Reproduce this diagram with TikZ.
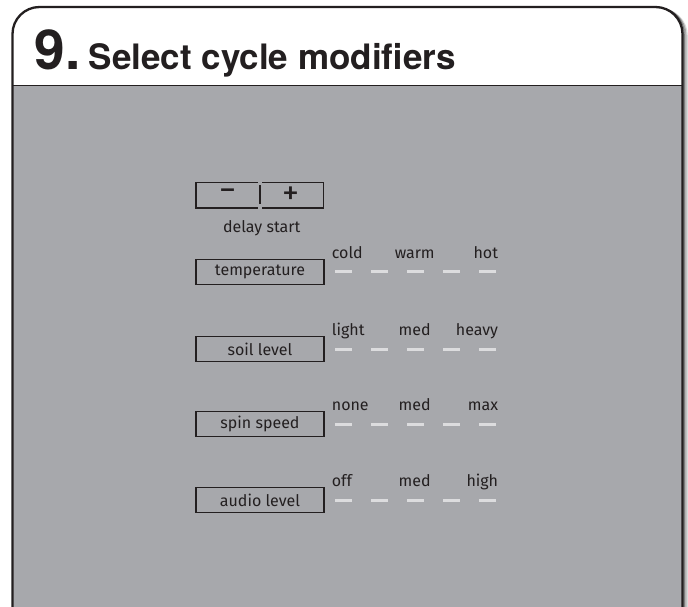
\documentclass[tikz,border=0pt]{standalone}
\usepackage{fontspec}
\setmainfont{Fira Sans}
\newfontfamily\titlefont{TeX Gyre Heros}
\definecolor{panelgray}{HTML}{A7A8AC}
\definecolor{ink}{HTML}{231F20}
\definecolor{ledgray}{HTML}{DCDCDE}
\begin{document}
\begin{tikzpicture}[x=1pt,y=-1pt,
  ctrl/.style={draw=ink,line width=1.3pt,minimum width=128pt,minimum height=25pt,inner sep=0pt,font=\fontsize{16}{18}\selectfont,text=ink},
  lbl/.style={inner sep=0pt,font=\fontsize{16}{18}\selectfont,text=ink},
  led/.style={draw=ledgray,line width=3pt},
  frameline/.style={draw=ink,line width=2.3pt,rounded corners=27pt}]
\useasboundingbox (0,0) rectangle (688,607);
\fill[white] (0,0) rectangle (688,607);
% soft shadow on the right
\foreach \o/\op in {1.5/0.45,3/0.3,4.5/0.15}{
  \draw[black,opacity=\op,line width=1.6pt,rounded corners=27pt] (60,7+0.4*\o) -- (682.5+\o,7+0.4*\o) -- (682.5+\o,607);
}
% panel
\fill[white,rounded corners=27pt] (12.5,607) -- (12.5,7) -- (682.5,7) -- (682.5,607) -- cycle;
\fill[panelgray] (12.5,85.7) rectangle (682.5,607);
\draw[ink,line width=1.5pt] (12.5,85.7) -- (682.5,85.7);
\draw[frameline] (12.5,607) -- (12.5,7) -- (682.5,7) -- (682.5,607);
% title
\node[anchor=base west,inner sep=0pt,text=ink,font=\titlefont\bfseries\fontsize{55}{60}\selectfont] (num) at (34.5,69.3) {9.};
\node[anchor=base west,inner sep=0pt,text=ink,font=\titlefont\bfseries\fontsize{35}{40}\selectfont] (title) at (88.5,69.3) {Select cycle modifiers};
% delay start control
\draw[ink,line width=1.3pt] (258,182.5) -- (196,182.5) -- (196,208) -- (258,208);
\draw[ink,line width=1.3pt] (262,182.5) -- (323.5,182.5) -- (323.5,208) -- (262,208);
\draw[ink,line width=2.5pt] (260,185) -- (260,204);
\node[lbl,font=\fontsize{34}{36}\selectfont] (minus) at (228.3,195.3) {−};
\node[lbl,font=\fontsize{34}{36}\selectfont] (plus) at (291,195.3) {+};
\node[lbl,anchor=base] (delay) at (261.7,232) {delay start};
% rows
\foreach \name/\txt/\yc/\la/\lb/\lc in {
  temp/temperature/271.7/cold/warm/hot,
  soil/soil level/349/light/med/heavy,
  spin/spin speed/424.3/none/med/max,
  audio/audio level/500/off/med/high}{
  \node[ctrl] (\name) at (260,\yc) {\txt};
  \node[lbl,anchor=base west] (\name-lo) at (331.7,\yc-13.6) {\la};
  \node[lbl,anchor=base] (\name-mid) at (414.7,\yc-13.6) {\lb};
  \node[lbl,anchor=base east] (\name-hi) at (498.3,\yc-13.6) {\lc};
  \foreach \i in {0,...,4}{
    \draw[led] (334.75+36*\i,\yc) -- (352.25+36*\i,\yc);
  }
}
\end{tikzpicture}
\end{document}
